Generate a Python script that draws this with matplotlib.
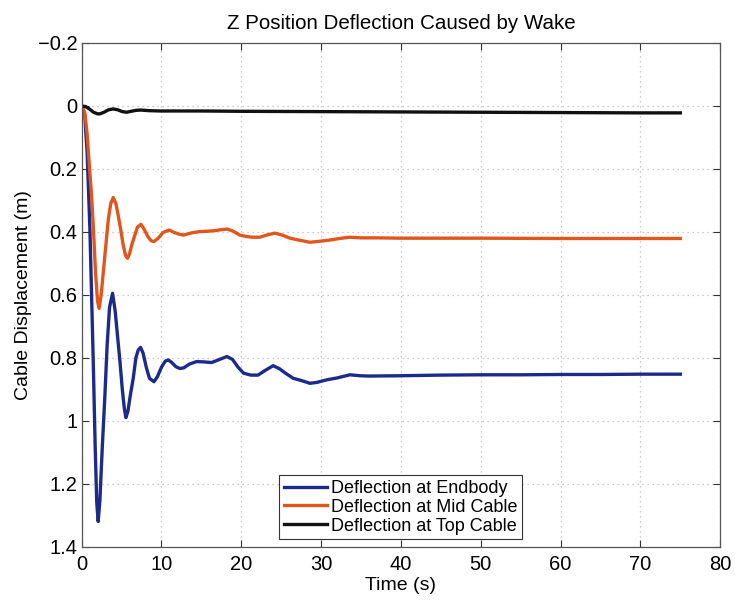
import matplotlib
matplotlib.use("Agg")
import matplotlib.pyplot as plt

plt.rcParams['font.family'] = ['Liberation Sans', 'DejaVu Sans']

# Time (s) and displacement (m)
t_end = [0, 0.4, 0.7, 1.04, 1.25, 1.46, 1.7, 1.9, 2.08, 2.3, 2.6, 2.92, 3.2, 3.5, 3.88,
         4.2, 4.5, 4.8, 5.1, 5.35, 5.55, 5.8, 6.1, 6.47, 6.8, 7.1, 7.39, 7.7, 8.1, 8.5,
         9.06, 9.5, 10.0, 10.5, 10.86, 11.3, 11.8, 12.3, 12.8, 13.5, 14.4, 15.3, 16.3,
         17.2, 18.2, 18.9, 19.6, 20.3, 21.2, 22.1, 23.0, 24.0, 24.8, 25.6, 26.5, 27.5,
         28.6, 29.5, 30.7, 32.0, 33.6, 34.9, 36, 40, 45, 50, 55, 60, 65, 70, 75]
z_end = [0, 0.03, 0.15, 0.39, 0.6, 0.81, 1.08, 1.26, 1.32, 1.25, 1.08, 0.92, 0.76, 0.64, 0.595,
         0.65, 0.73, 0.81, 0.90, 0.96, 0.99, 0.97, 0.92, 0.865, 0.80, 0.775, 0.767, 0.785, 0.83, 0.865,
         0.876, 0.86, 0.83, 0.81, 0.807, 0.815, 0.828, 0.834, 0.832, 0.82, 0.812, 0.813, 0.815,
         0.806, 0.796, 0.805, 0.83, 0.849, 0.855, 0.855, 0.84, 0.825, 0.835, 0.85, 0.865, 0.872,
         0.881, 0.878, 0.870, 0.864, 0.854, 0.857, 0.858, 0.857, 0.855, 0.854, 0.854, 0.853, 0.853, 0.852, 0.852]

t_mid = [0, 0.4, 0.7, 1.0, 1.25, 1.5, 1.75, 2.0, 2.2, 2.45, 2.75, 3.05, 3.35, 3.65, 3.96,
         4.3, 4.6, 4.88, 5.2, 5.5, 5.76, 6.0, 6.3, 6.68, 7.0, 7.43, 7.8, 8.3, 8.7, 9.06,
         9.6, 10.2, 10.98, 11.6, 12.3, 12.8, 13.8, 14.8, 15.8, 16.7, 17.5, 18.25, 19.0,
         19.8, 20.7, 21.5, 22.3, 23.2, 24.2, 25.1, 26.1, 27.2, 28.6, 29.8, 31.1, 32.3,
         33.6, 35, 37, 40, 50, 60, 70, 75]
z_mid = [0, 0.02, 0.09, 0.2, 0.283, 0.40, 0.53, 0.62, 0.643, 0.60, 0.52, 0.44, 0.36, 0.31, 0.291,
         0.31, 0.35, 0.389, 0.44, 0.475, 0.484, 0.47, 0.44, 0.41, 0.385, 0.376, 0.39, 0.415, 0.428, 0.431,
         0.42, 0.402, 0.394, 0.402, 0.408, 0.41, 0.403, 0.399, 0.398, 0.396, 0.393, 0.391, 0.398,
         0.41, 0.415, 0.417, 0.417, 0.41, 0.404, 0.41, 0.42, 0.426, 0.433, 0.430, 0.426, 0.421,
         0.417, 0.419, 0.419, 0.42, 0.42, 0.421, 0.421, 0.421]

t_top = [0, 0.5, 1.0, 1.5, 2.0, 2.3, 2.8, 3.4, 3.96, 4.5, 5.1, 5.64, 6.2, 6.8, 7.4, 8.5,
         10, 15, 20, 30, 40, 50, 60, 70, 75]
z_top = [0, 0.002, 0.01, 0.02, 0.025, 0.025, 0.02, 0.012, 0.0095, 0.012, 0.018, 0.02, 0.017,
         0.014, 0.013, 0.015, 0.016, 0.016, 0.017, 0.018, 0.019, 0.02, 0.021, 0.022, 0.022]

series_labels = ["Deflection at Endbody", "Deflection at Mid Cable", "Deflection at Top Cable"]
x_ticks = [0, 10, 20, 30, 40, 50, 60, 70, 80]
y_ticks = [-0.2, 0, 0.2, 0.4, 0.6, 0.8, 1.0, 1.2, 1.4]
y_ticklabels = ["\u22120.2", "0", "0.2", "0.4", "0.6", "0.8", "1", "1.2", "1.4"]

fig = plt.figure(figsize=(7.35, 6.03), dpi=100)
ax = fig.add_axes([0.111, 0.0934, 0.869, 0.8353])

ax.plot(t_end, z_end, color="#1c2a8c", lw=2.4, label=series_labels[0])
ax.plot(t_mid, z_mid, color="#e0561c", lw=2.4, label=series_labels[1])
ax.plot(t_top, z_top, color="#111111", lw=2.4, label=series_labels[2])

ax.set_xlim(0, 80)
ax.set_ylim(1.4, -0.2)
ax.set_xticks(x_ticks)
ax.set_yticks(y_ticks)
ax.set_yticklabels(y_ticklabels)
ax.tick_params(direction="in", length=5, width=0.8, top=True, right=True,
               labelsize=14.5, colors="#333333", labelcolor="black")
ax.tick_params(axis="y", pad=3)
ax.tick_params(axis="x", pad=6)
for s in ax.spines.values():
    s.set_color("#555555")
    s.set_linewidth(0.9)
ax.grid(True, linestyle=(0, (1, 3)), color="#bbbbbb", linewidth=0.9)

ax.set_xlabel("Time (s)", fontsize=14, labelpad=2)
ax.set_ylabel("Cable Displacement (m)", fontsize=14, labelpad=4)
ax.set_title("Z Position Deflection Caused by Wake", fontsize=14.8, pad=10)

leg = ax.legend(loc="lower center", bbox_to_anchor=(0.499, 0.008), fontsize=13,
                fancybox=False, framealpha=1, edgecolor="#333333",
                handlelength=2.4, handletextpad=0.2, labelspacing=0.1,
                borderpad=0.25, borderaxespad=0.2)
leg.get_frame().set_linewidth(0.8)

fig.savefig("out.png", dpi=100)
